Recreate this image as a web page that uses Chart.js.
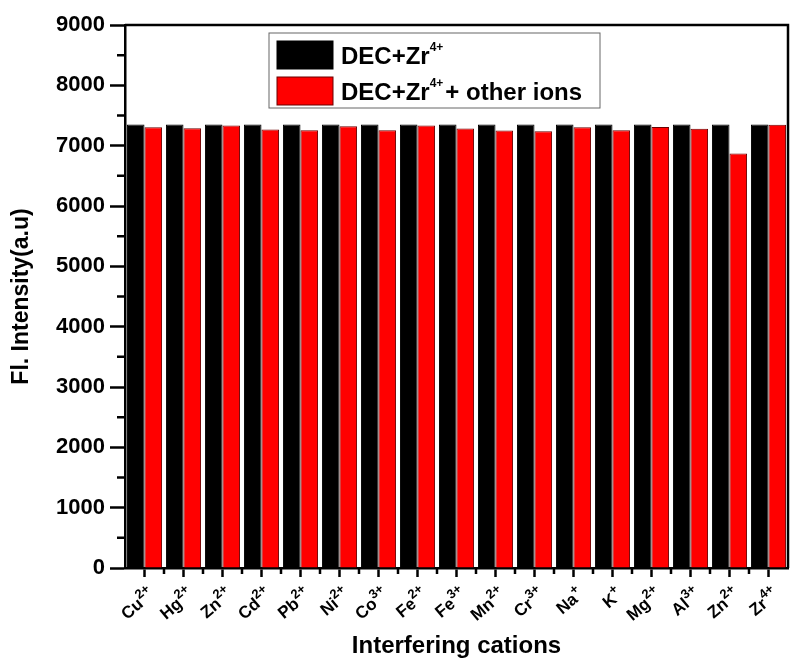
<!DOCTYPE html>
<html>
<head>
<meta charset="utf-8">
<script src="https://cdn.jsdelivr.net/npm/chart.js@4.4.1/dist/chart.umd.min.js"></script>
<style>
  html, body { margin: 0; padding: 0; background: #fff; }
  #wrap { position: relative; width: 793px; height: 671px; }
</style>
</head>
<body>
<div id="wrap"><canvas id="ionChart"></canvas></div>
<script>
// interfering cations: symbol and charge (charge is drawn as a superscript)
const cationSymbols = ['Cu', 'Hg', 'Zn', 'Cd', 'Pb', 'Ni', 'Co', 'Fe', 'Fe', 'Mn', 'Cr', 'Na', 'K', 'Mg', 'Al', 'Zn', 'Zr'];
const cationCharges = ['2+', '2+', '2+', '2+', '2+', '2+', '3+', '2+', '3+', '2+', '3+', '+', '+', '2+', '3+', '2+', '4+'];

// fluorescence intensity (a.u)
const decZr = [7350, 7350, 7350, 7350, 7350, 7350, 7350, 7350, 7350, 7350, 7350, 7350, 7350, 7350, 7350, 7350, 7350];
const decZrIons = [7305, 7290, 7335, 7267, 7256, 7322, 7256, 7335, 7284, 7250, 7240, 7305, 7256, 7310, 7280, 6870, 7345];

// legend text: [before superscript, superscript, after superscript]
const legendParts = [
    ['DEC+Zr', '4+', ''],
    ['DEC+Zr', '4+', '+ other ions']
];

const yMajorTicks = [0, 1000, 2000, 3000, 4000, 5000, 6000, 7000, 8000, 9000];
const yMinorTicks = [500, 1500, 2500, 3500, 4500, 5500, 6500, 7500, 8500];

const FONT = 'Arial, "Liberation Sans", sans-serif';
Chart.defaults.font.family = FONT;
Chart.defaults.color = '#000';

// top/right frame, minor ticks, superscript category labels and the boxed legend
const decorPlugin = {
    id: 'decor',
    afterDraw(chart) {
        const { ctx, chartArea: area, scales: { x, y } } = chart;
        ctx.save();
        ctx.strokeStyle = '#000';
        ctx.lineWidth = 2.5;

        ctx.beginPath();
        ctx.moveTo(area.left, area.top);
        ctx.lineTo(area.right, area.top);
        ctx.lineTo(area.right, area.bottom);
        ctx.stroke();

        // minor ticks
        ctx.beginPath();
        yMinorTicks.forEach(v => {
            const py = y.getPixelForValue(v);
            ctx.moveTo(area.left - 8, py);
            ctx.lineTo(area.left, py);
        });
        for (let i = 0; i < cationSymbols.length - 1; i++) {
            const px = (x.getPixelForValue(i) + x.getPixelForValue(i + 1)) / 2;
            ctx.moveTo(px, area.bottom);
            ctx.lineTo(px, area.bottom + 6);
        }
        ctx.stroke();

        // rotated category labels
        ctx.fillStyle = '#000';
        ctx.textAlign = 'left';
        ctx.textBaseline = 'alphabetic';
        const baseFont = 'bold 17px ' + FONT;
        const supFont = 'bold 13px ' + FONT;
        cationSymbols.forEach((sym, i) => {
            const px = x.getPixelForValue(i);
            ctx.save();
            ctx.translate(px + 6, area.bottom + 22);
            ctx.rotate(-40 * Math.PI / 180);
            ctx.font = baseFont;
            const wb = ctx.measureText(sym).width;
            ctx.font = supFont;
            const ws = ctx.measureText(cationCharges[i]).width;
            ctx.font = baseFont;
            ctx.fillText(sym, -wb - ws, 8);
            ctx.font = supFont;
            ctx.fillText(cationCharges[i], -ws, 0);
            ctx.restore();
        });

        // legend
        const lx = area.left + 144;
        const ly = area.top + 8;
        ctx.lineWidth = 1;
        ctx.strokeStyle = '#666';
        ctx.strokeRect(lx, ly, 331, 75);
        chart.data.datasets.forEach((ds, i) => {
            const sy = ly + 8 + i * 36;
            ctx.fillStyle = ds.backgroundColor;
            ctx.fillRect(lx + 8, sy, 56, 28);
            ctx.strokeStyle = ds.borderColor;
            ctx.strokeRect(lx + 8, sy, 56, 28);
            const [pre, sup, post] = legendParts[i];
            let tx = lx + 72;
            const base = sy + 23;
            ctx.fillStyle = '#000';
            ctx.font = 'bold 24px ' + FONT;
            ctx.fillText(pre, tx, base);
            tx += ctx.measureText(pre).width;
            ctx.font = 'bold 12px ' + FONT;
            ctx.fillText(sup, tx, base - 13);
            tx += ctx.measureText(sup).width + 2;
            ctx.font = 'bold 24px ' + FONT;
            ctx.fillText(post, tx, base);
        });
        ctx.restore();
    }
};

new Chart(document.getElementById('ionChart'), {
    type: 'bar',
    data: {
        labels: cationSymbols.map((s, i) => s + cationCharges[i]),
        datasets: [{
            label: legendParts[0].join(''),
            data: decZr,
            backgroundColor: '#000000',
            borderColor: '#000000',
            borderWidth: 1,
            categoryPercentage: 0.9,
            barPercentage: 1.0
        }, {
            label: legendParts[1].join(''),
            data: decZrIons,
            backgroundColor: '#ff0000',
            borderColor: '#6b0000',
            borderWidth: 1,
            categoryPercentage: 0.9,
            barPercentage: 1.0
        }]
    },
    options: {
        responsive: true,
        maintainAspectRatio: false,
        animation: false,
        layout: { padding: { top: 25, right: 5, left: 0, bottom: 0 } },
        plugins: {
            legend: { display: false },
            tooltip: { enabled: false }
        },
        scales: {
            x: {
                grid: {
                    offset: false,
                    drawOnChartArea: false,
                    tickLength: 9,
                    tickWidth: 2.5,
                    tickColor: '#000'
                },
                border: { display: true, color: '#000', width: 2.5 },
                ticks: { display: false },
                title: {
                    display: true,
                    text: 'Interfering cations',
                    font: { size: 24, weight: 'bold' },
                    padding: { top: 0, bottom: 10 }
                },
                afterFit: scale => { scale.height = 103; }
            },
            y: {
                min: 0,
                max: 9000,
                afterBuildTicks: scale => {
                    scale.ticks = yMajorTicks.map(v => ({ value: v }));
                },
                grid: {
                    drawOnChartArea: false,
                    tickLength: 15,
                    tickWidth: 2.5,
                    tickColor: '#000'
                },
                border: { display: true, color: '#000', width: 2.5 },
                ticks: {
                    font: { size: 22, weight: 'bold' },
                    padding: 5,
                    callback: v => String(v)
                },
                title: {
                    display: true,
                    text: 'Fl. Intensity(a.u)',
                    font: { size: 23, weight: 'bold' },
                    padding: { top: 8, bottom: 0 }
                },
                afterFit: scale => { scale.width = 125; }
            }
        }
    },
    plugins: [decorPlugin]
});
</script>
</body>
</html>
